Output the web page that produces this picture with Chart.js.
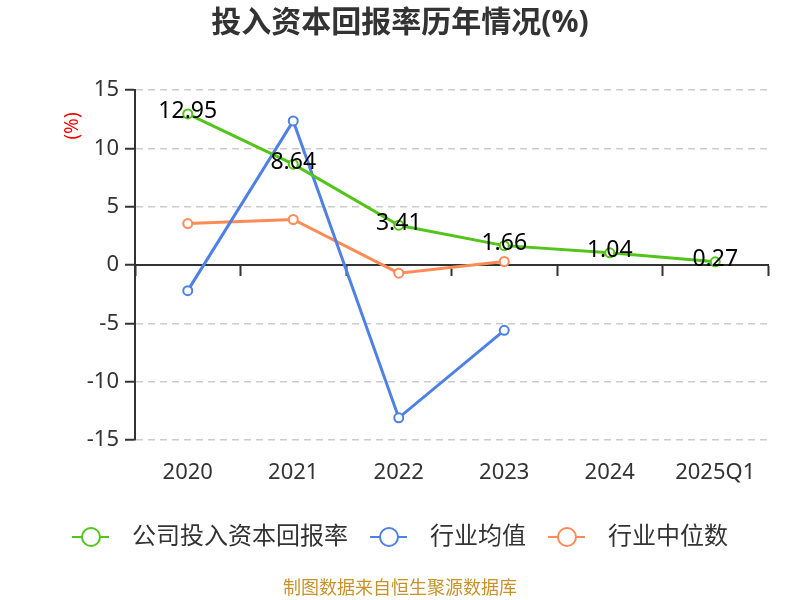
<!DOCTYPE html>
<html>
<head>
<meta charset="utf-8">
<script src="https://cdn.jsdelivr.net/npm/chart.js@4.4.0/dist/chart.umd.min.js"></script>
<style>
  html, body { margin: 0; padding: 0; background: #fff; }
  #wrap { width: 800px; height: 600px; }
</style>
</head>
<body>
<div id="wrap"><canvas id="roicChart"></canvas></div>
<script>
// 数据
const years = ['2020', '2021', '2022', '2023', '2024', '2025Q1'];
const companyRoic = [12.95, 8.64, 3.41, 1.66, 1.04, 0.27];
const industryAvg = [-2.2, 12.35, -13.1, -5.6, null, null];
const industryMedian = [3.55, 3.9, -0.7, 0.3, null, null];
const yTicks = [-15, -10, -5, 0, 5, 10, 15];

const GREEN = '#52c41a';
const BLUE = '#4f81e4';
const ORANGE = '#fd8b58';
const FONT = '"Noto Sans", "Noto Sans CJK SC", sans-serif';

// legend symbol: line with open circle
function legendIcon(color) {
    const c = document.createElement('canvas');
    c.width = 48; c.height = 24;
    const g = c.getContext('2d');
    g.strokeStyle = color;
    g.lineWidth = 2;
    g.beginPath();
    g.moveTo(0, 12); g.lineTo(37, 12);
    g.stroke();
    g.beginPath();
    g.arc(19, 12, 9, 0, Math.PI * 2);
    g.fillStyle = '#fff';
    g.fill();
    g.stroke();
    return c;
}

// value labels on company series + y unit
const extras = {
    id: 'extras',
    afterDatasetsDraw(chart) {
        const ctx = chart.ctx;
        const meta = chart.getDatasetMeta(0);
        ctx.save();
        ctx.font = '23px ' + FONT;
        ctx.fillStyle = '#000';
        ctx.textAlign = 'center';
        ctx.textBaseline = 'middle';
        meta.data.forEach((pt, i) => {
            ctx.fillText(companyRoic[i].toFixed(2), pt.x, pt.y - 2);
        });
        ctx.restore();

        ctx.save();
        ctx.translate(73, 126);
        ctx.rotate(-Math.PI / 2);
        ctx.font = '19px ' + FONT;
        ctx.fillStyle = '#ff0000';
        ctx.textAlign = 'center';
        ctx.textBaseline = 'middle';
        ctx.fillText('(%)', 0, 0);
        ctx.restore();
    }
};

function lineSet(label, data, color) {
    return {
        label: label,
        data: data,
        borderColor: color,
        backgroundColor: '#fff',
        borderWidth: 3,
        pointRadius: 4.5,
        pointBorderWidth: 2,
        pointBackgroundColor: '#fff',
        pointBorderColor: color
    };
}

const ctx = document.getElementById('roicChart').getContext('2d');
new Chart(ctx, {
    type: 'line',
    data: {
        labels: years,
        datasets: [
            lineSet('公司投入资本回报率', companyRoic, GREEN),
            lineSet('行业均值', industryAvg, BLUE),
            lineSet('行业中位数', industryMedian, ORANGE)
        ]
    },
    options: {
        responsive: true,
        maintainAspectRatio: false,
        animation: false,
        layout: { padding: { left: 32, right: 32, top: 0, bottom: 0 } },
        plugins: {
            title: {
                display: true,
                text: '投入资本回报率历年情况(%)',
                color: '#333',
                font: { family: FONT, size: 30, weight: 'bold' },
                padding: { top: 5, bottom: 49 }
            },
            subtitle: {
                display: true,
                position: 'bottom',
                text: '制图数据来自恒生聚源数据库',
                color: '#c8922a',
                font: { family: FONT, size: 18 },
                padding: { top: 19.4, bottom: 0 }
            },
            legend: {
                position: 'bottom',
                labels: {
                    usePointStyle: true,
                    pointStyleWidth: 48,
                    padding: 22,
                    color: '#333',
                    font: { family: FONT, size: 24 },
                    generateLabels(chart) {
                        return chart.data.datasets.map((ds, i) => ({
                            text: ds.label,
                            pointStyle: legendIcon(ds.borderColor),
                            fontColor: '#333',
                            datasetIndex: i,
                            hidden: false,
                            lineWidth: 0
                        }));
                    }
                }
            },
            tooltip: { enabled: false }
        },
        scales: {
            x: {
                offset: true,
                grid: { display: false },
                border: { display: false },
                ticks: {
                    color: '#333',
                    padding: 12,
                    font: { family: FONT, size: 22 }
                },
                afterFit(s) { s.height = 63; }
            },
            x2: {
                axis: 'x',
                type: 'category',
                labels: years,
                offset: true,
                position: { y: 0 },
                ticks: { display: false },
                grid: {
                    offset: true,
                    drawOnChartArea: false,
                    drawTicks: true,
                    tickLength: 10,
                    tickWidth: 2,
                    tickColor: '#333'
                },
                border: { display: true, color: '#333', width: 2 }
            },
            y: {
                min: -15,
                max: 15,
                afterBuildTicks(s) { s.ticks = yTicks.map(v => ({ value: v })); },
                ticks: {
                    color: '#333',
                    padding: 6,
                    font: { family: FONT, size: 22 }
                },
                grid: {
                    color: '#cccccc',
                    lineWidth: 1.5,
                    tickLength: 10,
                    tickWidth: 2,
                    tickColor: '#333'
                },
                border: { display: true, color: '#333', width: 2, dash: [7, 5] },
                afterFit(s) { s.width = 103; }
            }
        }
    },
    plugins: [extras]
});
</script>
</body>
</html>
